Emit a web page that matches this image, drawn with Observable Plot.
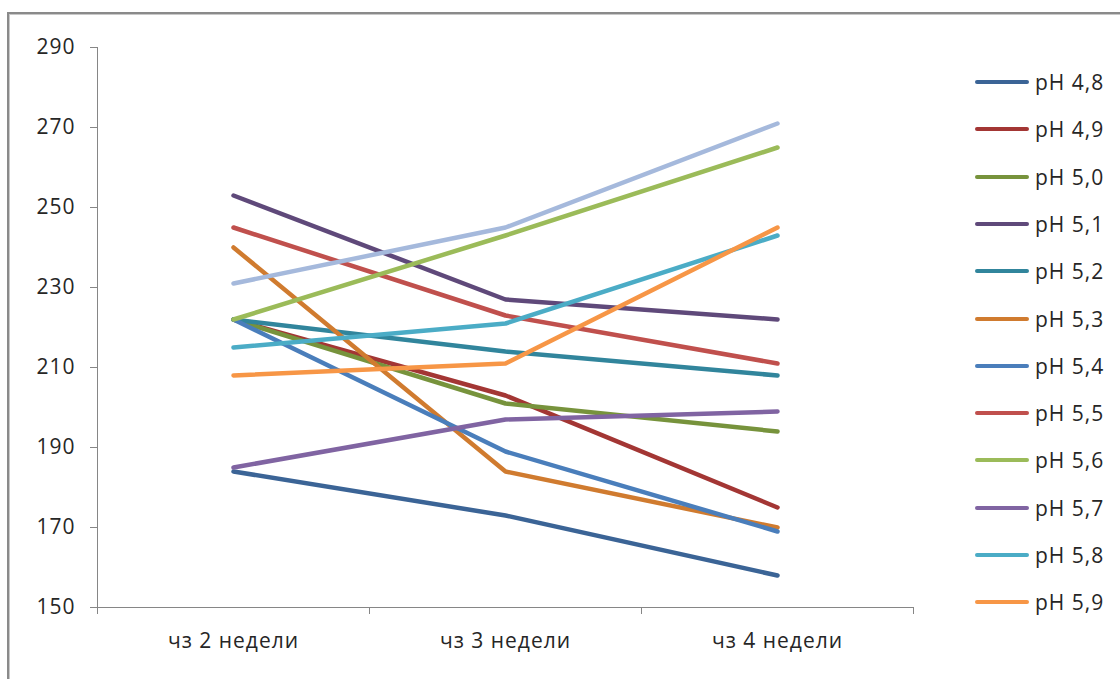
<!DOCTYPE html>
<html>
<head>
<meta charset="utf-8">
<script src="https://cdn.jsdelivr.net/npm/d3@7"></script>
<script src="https://cdn.jsdelivr.net/npm/@observablehq/plot@0.6"></script>
<style>
  html, body { margin: 0; padding: 0; background: #ffffff; overflow: hidden; }
  #wrap { position: relative; width: 1120px; height: 679px; overflow: hidden; background: #fff; }
  #chart svg text { fill: #262626; font-family: "Open Sans", sans-serif; font-size: 21px; letter-spacing: 1px; }
  #frame { position: absolute; left: 7px; top: 12px; width: 1300px; height: 900px;
           border-top: 2px solid #8a8a8a; border-left: 2px solid #8a8a8a; pointer-events: none;
           box-shadow: inset 1px 1px 0 #c8c8c8; }
  #legend { position: absolute; left: 0; top: 0; width: 1120px; height: 679px; pointer-events: none; }
  .lg-row { position: absolute; left: 975px; height: 30px; display: flex; align-items: center; }
  .lg-line { width: 54px; height: 4px; border-radius: 2px; }
  .lg-text { margin-left: 6px; font-family: "Open Sans", sans-serif; font-size: 21px; letter-spacing: 1px; color: #262626; white-space: nowrap; }
</style>
</head>
<body>
<div id="wrap">
  <div id="chart"></div>
  <div id="legend"></div>
  <div id="frame"></div>
</div>
<script>
// ---- Data ----
const categories = ["чз 2 недели", "чз 3 недели", "чз 4 недели"];
const yTicks = [150, 170, 190, 210, 230, 250, 270, 290];

const seriesNames = ["pH 4,8", "pH 4,9", "pH 5,0", "pH 5,1", "pH 5,2", "pH 5,3",
                     "pH 5,4", "pH 5,5", "pH 5,6", "pH 5,7", "pH 5,8", "pH 5,9", "pH 6,0"];

const ph48 = [184, 173, 158];
const ph49 = [222, 203, 175];
const ph50 = [222, 201, 194];
const ph51 = [253, 227, 222];
const ph52 = [222, 214, 208];
const ph53 = [240, 184, 170];
const ph54 = [222, 189, 169];
const ph55 = [245, 223, 211];
const ph56 = [222, 243, 265];
const ph57 = [185, 197, 199];
const ph58 = [215, 221, 243];
const ph59 = [208, 211, 245];
const ph60 = [231, 245, 271]; // 13th series; its legend entry is cut off in the original

const seriesValues = [ph48, ph49, ph50, ph51, ph52, ph53, ph54, ph55, ph56, ph57, ph58, ph59, ph60];

// ---- Styles ----
const colors = ["#3b6496", "#a33634", "#77933c", "#5f497a", "#31859c", "#d07b2f",
                "#4a7ebb", "#c0504d", "#9bbb59", "#8064a2", "#4bacc6", "#f79646", "#a5b9dc"];
const legendCount = 12; // entries visible in the original legend

// ---- Table for Plot ----
const rows = [];
seriesNames.forEach((name, s) => {
  seriesValues[s].forEach((v, i) => rows.push({series: name, xi: i, value: v}));
});

const chart = Plot.plot({
  width: 1120,
  height: 679,
  marginLeft: 97,
  marginRight: 207,
  marginTop: 47,
  marginBottom: 72,
  style: {background: "transparent", color: "#868686", fontFamily: "Open Sans, sans-serif", fontSize: "21px", overflow: "visible"},
  x: {
    type: "linear",
    domain: [-0.5, categories.length - 0.5],
    ticks: d3.range(categories.length + 1).map(i => i - 0.5),
    tickFormat: () => "",
    tickSize: 7,
    line: true,
    label: null
  },
  y: {
    domain: [yTicks[0], yTicks[yTicks.length - 1]],
    ticks: yTicks,
    tickSize: 7,
    tickPadding: 15,
    line: true,
    label: null
  },
  color: {domain: seriesNames, range: colors},
  marks: [
    Plot.line(rows, {
      x: "xi", y: "value", z: "series", stroke: "series",
      strokeWidth: 4.5, strokeLinejoin: "round", strokeLinecap: "round"
    }),
    Plot.text(categories, {
      x: (d, i) => i, y: () => yTicks[0], text: d => d,
      dy: 34, fill: "#262626", fontSize: 21
    })
  ]
});
document.getElementById("chart").appendChild(chart);

// ---- Legend (HTML) ----
const legend = d3.select("#legend");
const rowTop = 82, rowStep = 47.3;
seriesNames.slice(0, legendCount).forEach((name, i) => {
  const row = legend.append("div").attr("class", "lg-row")
    .style("top", (rowTop + i * rowStep - 15) + "px");
  row.append("div").attr("class", "lg-line").style("background", colors[i]);
  row.append("div").attr("class", "lg-text").text(name);
});
</script>
</body>
</html>
